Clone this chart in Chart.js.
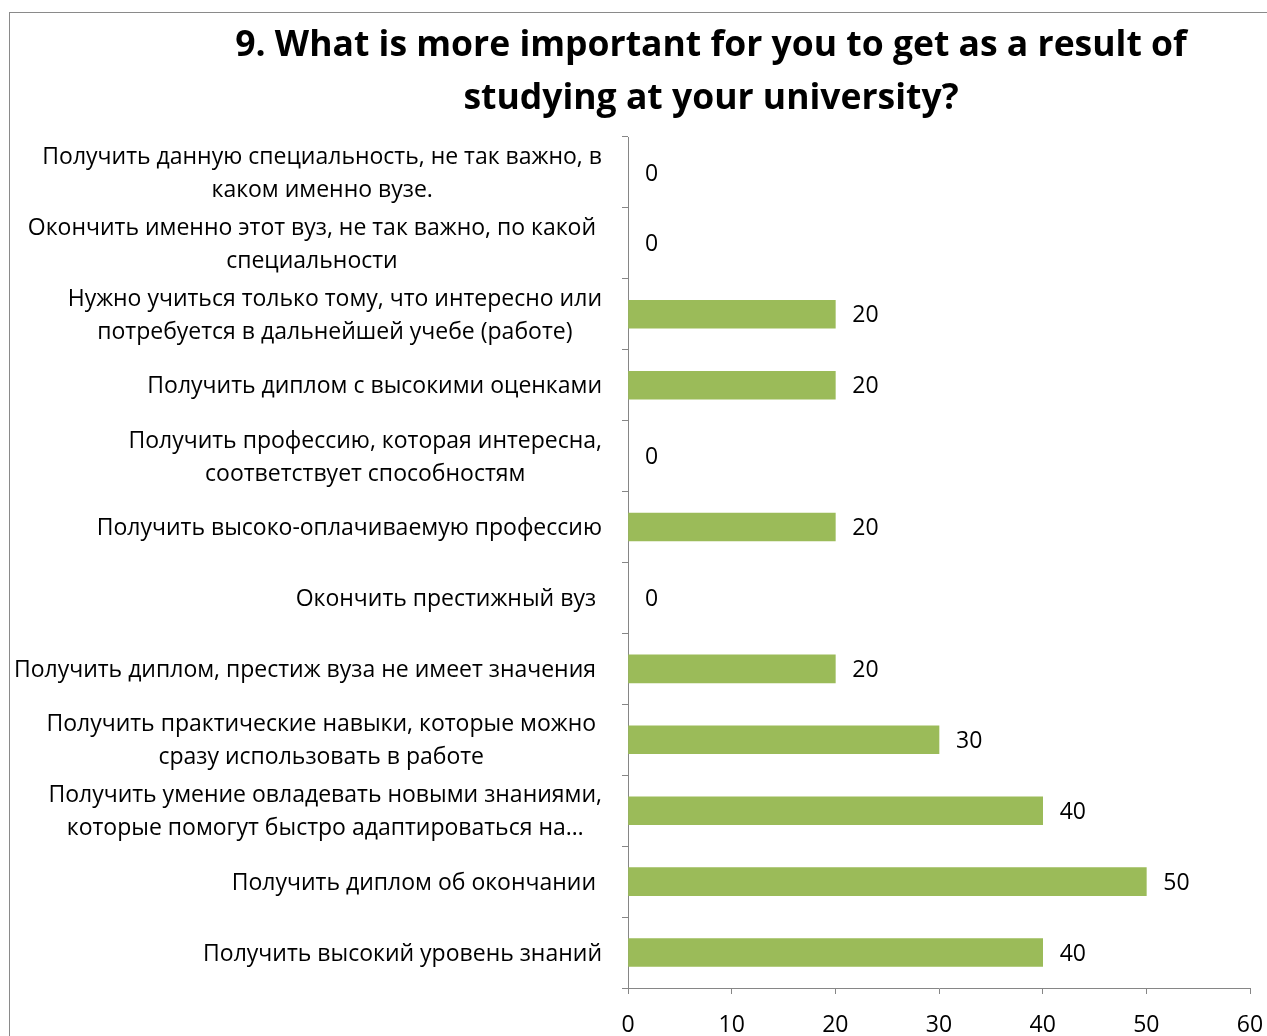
<!DOCTYPE html>
<html>
<head>
<meta charset="utf-8">
<script src="https://cdn.jsdelivr.net/npm/chart.js@4.4.1/dist/chart.umd.min.js"></script>
<style>
  html, body { margin: 0; padding: 0; background: #fff; overflow: hidden; width: 1267px; height: 1036px; }
  #wrap { position: relative; width: 1267px; height: 1036px; }
  #frame { position: absolute; left: 9px; top: 12px; width: 1400px; height: 1200px; border: 1px solid #8a8a8a; box-sizing: border-box; }
  #title { position: absolute; left: 155px; width: 1112px; top: 16px; text-align: center;
           font: bold 35.5px 'Open Sans', sans-serif; line-height: 53px; color: #000; }
  canvas { position: absolute; left: 0; top: 0; }
</style>
</head>
<body>
<div id="wrap">
  <div id="frame"></div>
  <canvas id="chart" width="1267" height="1036"></canvas>
  <div id="title">9. What is more important for you to get as a result of<br>studying at your university?</div>
</div>
<script>
// Answer options, listed top to bottom, one array entry per printed line
const categories = [
  ['Получить данную специальность, не так важно, в', 'каком именно вузе.'],
  ['Окончить именно этот вуз, не так важно, по какой ', 'специальности'],
  ['Нужно учиться только тому, что интересно или', 'потребуется в дальнейшей учебе (работе)'],
  ['Получить диплом с высокими оценками'],
  ['Получить профессию, которая интересна,', 'соответствует способностям'],
  ['Получить высоко-оплачиваемую профессию'],
  ['Окончить престижный вуз '],
  ['Получить диплом, престиж вуза не имеет значения '],
  ['Получить практические навыки, которые можно ', 'сразу использовать в работе'],
  ['Получить умение овладевать новыми знаниями,', 'которые помогут быстро адаптироваться на…'],
  ['Получить диплом об окончании '],
  ['Получить высокий уровень знаний']
];

// Responses per option
const values = [0, 0, 20, 20, 0, 20, 0, 20, 30, 40, 50, 40];

// Value axis range
const axisMin = 0;
const axisMax = 60;
const axisStep = 10;

const FONT = 'Open Sans';
const LABEL_SIZE = 23;
const TEXT_NUDGE = 1.5;   // Open Sans sits slightly high on a 'middle' baseline
const AXIS_COLOR = '#868686';
const BAR_COLOR = '#9BBB59';

// Category labels: block right-aligned to the axis, lines centred inside the block
const categoryLabels = {
  id: 'categoryLabels',
  afterDraw(chart) {
    const ctx = chart.ctx;
    const yScale = chart.scales.y;
    const rightEdge = yScale.right - 26;
    const lineGap = 33;
    ctx.save();
    ctx.font = LABEL_SIZE + 'px "' + FONT + '"';
    ctx.fillStyle = '#000';
    ctx.textBaseline = 'middle';
    ctx.textAlign = 'center';
    const spaceW = ctx.measureText(' ').width;
    categories.forEach((lines, i) => {
      const yc = yScale.getPixelForValue(i) + TEXT_NUDGE;
      const trailing = lines.some(l => /\s$/.test(l)) ? spaceW : 0;
      const widths = lines.map(l => ctx.measureText(l.trim()).width);
      const w = Math.max(...widths);
      const cx = rightEdge - trailing - w / 2;
      const y0 = yc - (lines.length - 1) * lineGap / 2;
      lines.forEach((l, k) => ctx.fillText(l.trim(), cx, y0 + k * lineGap));
    });
    ctx.restore();
  }
};

// Value printed just past the end of each bar
const valueLabels = {
  id: 'valueLabels',
  afterDatasetsDraw(chart) {
    const ctx = chart.ctx;
    const meta = chart.getDatasetMeta(0);
    ctx.save();
    ctx.font = LABEL_SIZE + 'px "' + FONT + '"';
    ctx.fillStyle = '#000';
    ctx.textBaseline = 'middle';
    ctx.textAlign = 'left';
    meta.data.forEach((bar, i) => {
      ctx.fillText(String(values[i]), bar.x + 17, bar.y + TEXT_NUDGE);
    });
    ctx.restore();
  }
};

Chart.defaults.font.family = FONT;
Chart.defaults.color = '#000';

new Chart(document.getElementById('chart'), {
  type: 'bar',
  data: {
    labels: categories,
    datasets: [{
      data: values,
      // empty answers leave no sliver on the axis
      backgroundColor: ctx => (ctx.raw === 0 ? 'rgba(0,0,0,0)' : BAR_COLOR),
      borderWidth: 0,
      barThickness: 28
    }]
  },
  options: {
    indexAxis: 'y',
    responsive: false,
    animation: false,
    layout: { padding: { top: 137, right: 17, left: 0, bottom: 0 } },
    plugins: {
      legend: { display: false },
      title: { display: false },
      tooltip: { enabled: false }
    },
    scales: {
      y: {
        type: 'category',
        offset: true,
        ticks: { display: false },
        grid: { drawOnChartArea: false, drawTicks: true, tickLength: 6, color: AXIS_COLOR, offset: true },
        border: { display: true, color: AXIS_COLOR, width: 1 },
        afterFit(scale) { scale.width = 628; }
      },
      x: {
        min: axisMin,
        max: axisMax,
        ticks: { stepSize: axisStep, font: { size: LABEL_SIZE }, color: '#000', padding: 18, maxRotation: 0 },
        grid: { drawOnChartArea: false, drawTicks: true, tickLength: 6, color: AXIS_COLOR },
        border: { display: true, color: AXIS_COLOR, width: 1 },
        afterFit(scale) {
          scale.height = 48;
          scale.paddingLeft = 0;
          scale.paddingRight = 0;
        }
      }
    }
  },
  plugins: [categoryLabels, valueLabels]
});
</script>
</body>
</html>
